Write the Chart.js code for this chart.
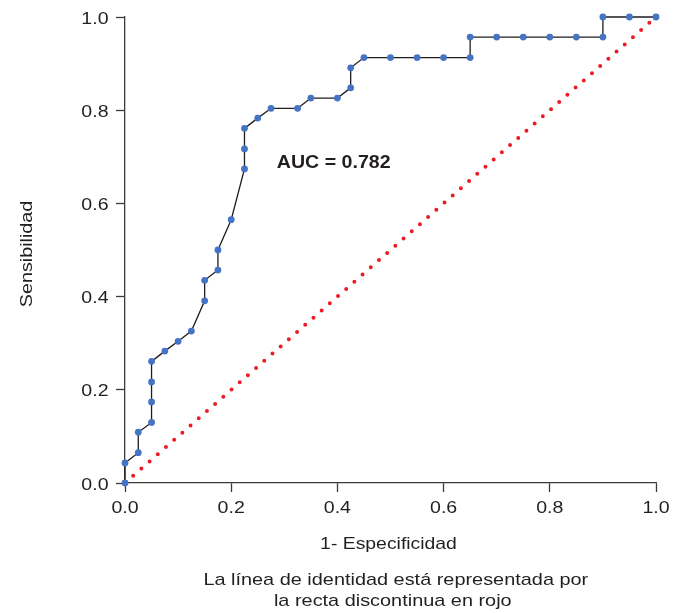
<!DOCTYPE html>
<html>
<head>
<meta charset="utf-8">
<script src="https://cdn.jsdelivr.net/npm/chart.js@4.4.1/dist/chart.umd.min.js"></script>
<style>
  html, body { margin: 0; padding: 0; background: #ffffff; }
  #wrap { width: 684px; height: 613px; position: relative; }
  canvas { display: block; }
</style>
</head>
<body>
<div id="wrap"><canvas id="c" width="684" height="613"></canvas></div>
<script>
// 1 - specificity (false positive rate) of each ROC point
const fpr = [0, 0, 0.025, 0.025, 0.05, 0.05, 0.05, 0.05, 0.075, 0.1, 0.125, 0.15, 0.15, 0.175, 0.175, 0.2,
  0.225, 0.225, 0.225, 0.25, 0.275, 0.325, 0.35, 0.4, 0.425, 0.425, 0.45, 0.5, 0.55, 0.6, 0.65, 0.65,
  0.7, 0.75, 0.8, 0.85, 0.9, 0.9, 0.95, 1.0];
// sensitivity (true positive rate) of each ROC point
const tpr = [0, 0.043, 0.065, 0.109, 0.130, 0.174, 0.217, 0.261, 0.283, 0.304, 0.326, 0.391, 0.435, 0.457, 0.500, 0.565,
  0.674, 0.717, 0.761, 0.783, 0.804, 0.804, 0.826, 0.826, 0.848, 0.891, 0.913, 0.913, 0.913, 0.913, 0.913, 0.957,
  0.957, 0.957, 0.957, 0.957, 0.957, 1.0, 1.0, 1.0];
// identity line endpoints
const diagX = [0, 1];
const diagY = [0, 1];
// tick labels
const xTicks = ['0.0', '0.2', '0.4', '0.6', '0.8', '1.0'];
const yTicks = ['0.0', '0.2', '0.4', '0.6', '0.8', '1.0'];
// texts
const xTitle = '1- Especificidad';
const yTitle = 'Sensibilidad';
const aucLabel = 'AUC = 0.782';
const noteLines = ['La línea de identidad está representada por', 'la recta discontinua en rojo'];

const FONT = '"Liberation Sans", Arial, Helvetica, sans-serif';
const TEXT = '#231f20';
const AXIS = '#3a3a3a';
const STRETCH = 1.15;

const rocData = fpr.map((x, i) => ({ x: x, y: tpr[i] }));
const diagData = diagX.map((x, i) => ({ x: x, y: diagY[i] }));

function wideText(ctx, str, x, y, align, sx, rot) {
  ctx.save();
  ctx.translate(x, y);
  if (rot) ctx.rotate(rot);
  ctx.scale(sx, 1);
  ctx.textAlign = align;
  ctx.textBaseline = 'alphabetic';
  ctx.fillText(str, 0, 0);
  ctx.restore();
}

const textPlugin = {
  id: 'texts',
  afterDraw(chart) {
    const ctx = chart.ctx;
    const xs = chart.scales.x, ys = chart.scales.y;
    ctx.save();
    ctx.fillStyle = TEXT;
    // tick labels, positioned by the scales
    ctx.font = '17px ' + FONT;
    xs.ticks.forEach((t, i) => {
      wideText(ctx, xTicks[Math.round(t.value * 5)], xs.getPixelForTick(i), ys.bottom + 30.3, 'center', STRETCH);
    });
    ys.ticks.forEach((t, i) => {
      wideText(ctx, yTicks[Math.round(t.value * 5)], xs.left - 16.5, ys.getPixelForTick(i) + 6.5, 'right', STRETCH);
    });
    // AUC label inside plot
    ctx.font = 'bold 17.5px ' + FONT;
    wideText(ctx, aucLabel, xs.getPixelForValue(0.393), ys.getPixelForValue(0.675), 'center', 1.12);
    // x title
    ctx.font = '17px ' + FONT;
    wideText(ctx, xTitle, 388.5, 549, 'center', 1.14);
    // bottom note
    wideText(ctx, noteLines[0], 395.8, 585, 'center', 1.17);
    wideText(ctx, noteLines[1], 392.8, 606, 'center', 1.17);
    // y title
    wideText(ctx, yTitle, 31.5, 254, 'center', 1.16, -Math.PI / 2);
    ctx.restore();
  }
};

new Chart(document.getElementById('c'), {
  type: 'scatter',
  data: {
    datasets: [
      {
        label: 'ROC',
        data: rocData,
        showLine: true,
        borderColor: '#1e1e1e',
        borderWidth: 1.3,
        pointRadius: 3.4,
        pointBackgroundColor: '#4674c4',
        pointBorderWidth: 0,
        pointHoverRadius: 3.4,
        tension: 0,
        clip: false,
        order: 0
      },
      {
        label: 'Identidad',
        data: diagData,
        showLine: true,
        borderColor: '#ec1c24',
        borderWidth: 4,
        borderDash: [0, 10.9],
        borderCapStyle: 'round',
        pointRadius: 0,
        clip: false,
        order: 1
      }
    ]
  },
  options: {
    responsive: false,
    animation: false,
    devicePixelRatio: 1,
    layout: { padding: { left: 0, right: 28, top: 17, bottom: 0 } },
    plugins: { legend: { display: false }, tooltip: { enabled: false } },
    scales: {
      x: {
        type: 'linear',
        min: 0, max: 1,
        afterFit(s) { s.height = 130; },
        grid: { display: true, drawOnChartArea: false, drawTicks: true, tickLength: 9, tickColor: AXIS, tickWidth: 1.3 },
        border: { display: true, color: AXIS, width: 1.3 },
        ticks: { stepSize: 0.2, display: false }
      },
      y: {
        type: 'linear',
        min: 0, max: 1,
        afterFit(s) { s.width = 125; },
        grid: { display: true, drawOnChartArea: false, drawTicks: true, tickLength: 9, tickColor: AXIS, tickWidth: 1.3 },
        border: { display: true, color: AXIS, width: 1.3 },
        ticks: { stepSize: 0.2, display: false }
      }
    }
  },
  plugins: [textPlugin]
});
</script>
</body>
</html>
